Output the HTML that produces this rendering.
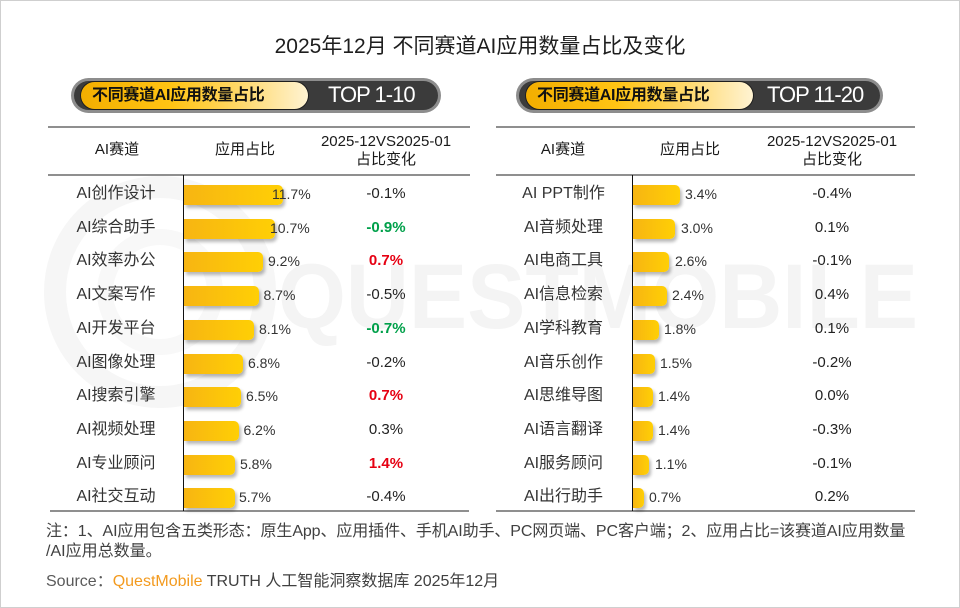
<!DOCTYPE html>
<html>
<head>
<meta charset="utf-8">
<style>
  html,body{margin:0;padding:0;background:#fff;}
  body{width:960px;height:608px;position:relative;overflow:hidden;
    font-family:"Liberation Sans","Noto Sans CJK SC",sans-serif;color:#222;}
  .frame{position:absolute;left:0;top:0;width:958px;height:606px;border:1px solid #cfcfcf;}
  .abs{position:absolute;white-space:nowrap;}
  .c{position:absolute;white-space:nowrap;text-align:center;width:200px;height:24px;line-height:24px;}
  .lbl{font-size:16px;color:#333;}
  .chg{font-size:15px;color:#222;}
  .g{color:#00a04a;font-weight:bold;}
  .r{color:#e60012;font-weight:bold;}
  .pct{position:absolute;white-space:nowrap;font-size:14px;color:#333;height:24px;line-height:24px;}
  .bar{position:absolute;height:20px;border-radius:0 5px 5px 0;
    background:linear-gradient(to right,#f7b512,#ffcf05);
    box-shadow:2px 3px 3px rgba(0,0,0,0.28);}
  .hline{position:absolute;height:2px;background:#8f8f8f;}
  .vline{position:absolute;width:1px;background:#111;}
  .hd{font-size:15px;color:#1a1a1a;}
  .pill-o{position:absolute;height:35px;border-radius:18px;background:#8d8d8d;}
  .pill-i{position:absolute;height:29px;border-radius:15px;background:#3b3b3b;}
  .pill-y{position:absolute;height:27px;border-radius:14px;
    background:linear-gradient(to right,#f3ae00 0%,#ffc414 40%,#ffd86a 70%,#fff3d2 100%);
    box-shadow:0 0 0 1px #1e1e1e;}
  .pill-t{position:absolute;font-size:16px;font-weight:bold;color:#111;line-height:27px;height:27px;white-space:nowrap;letter-spacing:-0.3px;}
  .top{position:absolute;font-size:22px;color:#fff;letter-spacing:-1px;line-height:30px;height:30px;white-space:nowrap;}
  .note{position:absolute;left:46px;font-size:16px;color:#404040;white-space:nowrap;line-height:20px;}
</style>
</head>
<body>
<div class="frame"></div>

<!-- watermark -->
<svg class="abs" style="left:0;top:0" width="960" height="608" viewBox="0 0 960 608">
  <circle cx="160" cy="292" r="105" fill="none" stroke="#f6f6f6" stroke-width="22"/>
  <circle cx="160" cy="292" r="55" fill="none" stroke="#f8f8f8" stroke-width="16"/>
  <text x="278" y="328" font-family="Liberation Sans, sans-serif" font-weight="bold" font-size="92" fill="#f4f4f4" textLength="640" lengthAdjust="spacingAndGlyphs">QUESTMOBILE</text>
</svg>

<!-- title -->
<div class="abs" style="left:0;width:960px;top:33px;text-align:center;font-size:21px;line-height:28px;color:#1e1e1e;">2025年12月 不同赛道AI应用数量占比及变化</div>

<!-- left pill -->
<div class="pill-o" style="left:71px;top:78px;width:370px;"></div>
<div class="pill-i" style="left:74px;top:81px;width:364px;"></div>
<div class="pill-y" style="left:81px;top:82px;width:227px;"></div>
<div class="pill-t" style="left:92px;top:82px;">不同赛道AI应用数量占比</div>
<div class="top" style="left:328px;top:80px;">TOP 1-10</div>

<!-- right pill -->
<div class="pill-o" style="left:516px;top:78px;width:367px;"></div>
<div class="pill-i" style="left:519px;top:81px;width:361px;"></div>
<div class="pill-y" style="left:526px;top:82px;width:227px;"></div>
<div class="pill-t" style="left:537px;top:82px;">不同赛道AI应用数量占比</div>
<div class="top" style="left:767px;top:80px;">TOP 11-20</div>

<!-- table lines -->
<div class="hline" style="left:48px;top:126px;width:422px;"></div>
<div class="hline" style="left:48px;top:174px;width:422px;"></div>
<div class="hline" style="left:50px;top:510px;width:419px;"></div>
<div class="vline" style="left:183px;top:175px;height:336px;"></div>

<div class="hline" style="left:496px;top:126px;width:419px;"></div>
<div class="hline" style="left:496px;top:174px;width:419px;"></div>
<div class="hline" style="left:496px;top:510px;width:419px;"></div>
<div class="vline" style="left:632px;top:175px;height:336px;"></div>

<!-- headers left -->
<div class="c hd" style="left:17px;top:138px;">AI赛道</div>
<div class="c hd" style="left:145px;top:138px;">应用占比</div>
<div class="c hd" style="left:286px;top:130px;">2025-12VS2025-01</div>
<div class="c hd" style="left:286px;top:148px;">占比变化</div>
<!-- headers right -->
<div class="c hd" style="left:463px;top:138px;">AI赛道</div>
<div class="c hd" style="left:590px;top:138px;">应用占比</div>
<div class="c hd" style="left:732px;top:130px;">2025-12VS2025-01</div>
<div class="c hd" style="left:732px;top:148px;">占比变化</div>

<!-- LEFT ROWS -->
<div class="c lbl" style="left:16px;top:182px;">AI创作设计</div>
<div class="bar" style="left:184px;top:185px;width:98.6px;"></div>
<div class="pct" style="left:272px;top:182px;">11.7%</div>
<div class="c chg" style="left:286px;top:182px;">-0.1%</div>

<div class="c lbl" style="left:16px;top:215.7px;">AI综合助手</div>
<div class="bar" style="left:184px;top:218.7px;width:90.6px;"></div>
<div class="pct" style="left:270px;top:215.7px;">10.7%</div>
<div class="c chg g" style="left:286px;top:215.7px;">-0.9%</div>

<div class="c lbl" style="left:16px;top:249.4px;">AI效率办公</div>
<div class="bar" style="left:184px;top:252.4px;width:78.6px;"></div>
<div class="pct" style="left:268px;top:249.4px;">9.2%</div>
<div class="c chg r" style="left:286px;top:249.4px;">0.7%</div>

<div class="c lbl" style="left:16px;top:283.1px;">AI文案写作</div>
<div class="bar" style="left:184px;top:286.1px;width:74.6px;"></div>
<div class="pct" style="left:263.5px;top:283.1px;">8.7%</div>
<div class="c chg" style="left:286px;top:283.1px;">-0.5%</div>

<div class="c lbl" style="left:16px;top:316.8px;">AI开发平台</div>
<div class="bar" style="left:184px;top:319.8px;width:69.8px;"></div>
<div class="pct" style="left:259px;top:316.8px;">8.1%</div>
<div class="c chg g" style="left:286px;top:316.8px;">-0.7%</div>

<div class="c lbl" style="left:16px;top:350.5px;">AI图像处理</div>
<div class="bar" style="left:184px;top:353.5px;width:59.4px;"></div>
<div class="pct" style="left:248px;top:350.5px;">6.8%</div>
<div class="c chg" style="left:286px;top:350.5px;">-0.2%</div>

<div class="c lbl" style="left:16px;top:384.2px;">AI搜索引擎</div>
<div class="bar" style="left:184px;top:387.2px;width:57px;"></div>
<div class="pct" style="left:246px;top:384.2px;">6.5%</div>
<div class="c chg r" style="left:286px;top:384.2px;">0.7%</div>

<div class="c lbl" style="left:16px;top:417.9px;">AI视频处理</div>
<div class="bar" style="left:184px;top:420.9px;width:54.6px;"></div>
<div class="pct" style="left:243.5px;top:417.9px;">6.2%</div>
<div class="c chg" style="left:286px;top:417.9px;">0.3%</div>

<div class="c lbl" style="left:16px;top:451.6px;">AI专业顾问</div>
<div class="bar" style="left:184px;top:454.6px;width:51.4px;"></div>
<div class="pct" style="left:240px;top:451.6px;">5.8%</div>
<div class="c chg r" style="left:286px;top:451.6px;">1.4%</div>

<div class="c lbl" style="left:16px;top:485.3px;">AI社交互动</div>
<div class="bar" style="left:184px;top:488.3px;width:50.6px;"></div>
<div class="pct" style="left:239px;top:485.3px;">5.7%</div>
<div class="c chg" style="left:286px;top:485.3px;">-0.4%</div>

<!-- RIGHT ROWS -->
<div class="c lbl" style="left:463.5px;top:182px;">AI PPT制作</div>
<div class="bar" style="left:633px;top:185px;width:47px;"></div>
<div class="pct" style="left:685px;top:182px;">3.4%</div>
<div class="c chg" style="left:732px;top:182px;">-0.4%</div>

<div class="c lbl" style="left:463.5px;top:215.7px;">AI音频处理</div>
<div class="bar" style="left:633px;top:218.7px;width:41.6px;"></div>
<div class="pct" style="left:681px;top:215.7px;">3.0%</div>
<div class="c chg" style="left:732px;top:215.7px;">0.1%</div>

<div class="c lbl" style="left:463.5px;top:249.4px;">AI电商工具</div>
<div class="bar" style="left:633px;top:252.4px;width:36.3px;"></div>
<div class="pct" style="left:675px;top:249.4px;">2.6%</div>
<div class="c chg" style="left:732px;top:249.4px;">-0.1%</div>

<div class="c lbl" style="left:463.5px;top:283.1px;">AI信息检索</div>
<div class="bar" style="left:633px;top:286.1px;width:33.6px;"></div>
<div class="pct" style="left:672px;top:283.1px;">2.4%</div>
<div class="c chg" style="left:732px;top:283.1px;">0.4%</div>

<div class="c lbl" style="left:463.5px;top:316.8px;">AI学科教育</div>
<div class="bar" style="left:633px;top:319.8px;width:25.6px;"></div>
<div class="pct" style="left:664px;top:316.8px;">1.8%</div>
<div class="c chg" style="left:732px;top:316.8px;">0.1%</div>

<div class="c lbl" style="left:463.5px;top:350.5px;">AI音乐创作</div>
<div class="bar" style="left:633px;top:353.5px;width:21.7px;"></div>
<div class="pct" style="left:660px;top:350.5px;">1.5%</div>
<div class="c chg" style="left:732px;top:350.5px;">-0.2%</div>

<div class="c lbl" style="left:463.5px;top:384.2px;">AI思维导图</div>
<div class="bar" style="left:633px;top:387.2px;width:20.3px;"></div>
<div class="pct" style="left:658px;top:384.2px;">1.4%</div>
<div class="c chg" style="left:732px;top:384.2px;">0.0%</div>

<div class="c lbl" style="left:463.5px;top:417.9px;">AI语言翻译</div>
<div class="bar" style="left:633px;top:420.9px;width:20.3px;"></div>
<div class="pct" style="left:658px;top:417.9px;">1.4%</div>
<div class="c chg" style="left:732px;top:417.9px;">-0.3%</div>

<div class="c lbl" style="left:463.5px;top:451.6px;">AI服务顾问</div>
<div class="bar" style="left:633px;top:454.6px;width:16.3px;"></div>
<div class="pct" style="left:655px;top:451.6px;">1.1%</div>
<div class="c chg" style="left:732px;top:451.6px;">-0.1%</div>

<div class="c lbl" style="left:463.5px;top:485.3px;">AI出行助手</div>
<div class="bar" style="left:633px;top:488.3px;width:11px;"></div>
<div class="pct" style="left:649px;top:485.3px;">0.7%</div>
<div class="c chg" style="left:732px;top:485.3px;">0.2%</div>

<!-- footnote -->
<div class="note" style="top:522px;letter-spacing:-0.1px;">注：1、AI应用包含五类形态：原生App、应用插件、手机AI助手、PC网页端、PC客户端；2、应用占比=该赛道AI应用数量</div>
<div class="note" style="top:542px;">/AI应用总数量。</div>
<div class="note" style="top:572px;"><span style="color:#5a5a5a;">Source：</span><span style="color:#f39a1e;">QuestMobile</span> TRUTH 人工智能洞察数据库 2025年12月</div>
</body>
</html>
